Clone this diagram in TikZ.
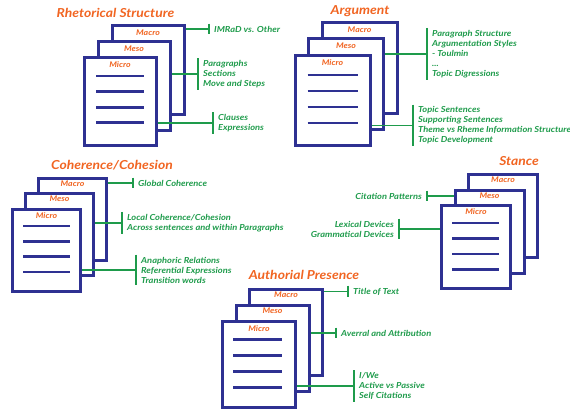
\documentclass[tikz,border=0pt]{standalone}
\usepackage{fontspec}
\setmainfont{Lato}[FakeStretch=1.12]
\usepackage{tikz}
\usepackage{xcolor}
\usetikzlibrary{positioning}
\definecolor{cNavy}{RGB}{46,49,146}
\definecolor{cOrange}{RGB}{241,101,34}
\definecolor{cGreen}{RGB}{30,155,75}
\tikzset{
	page/.style 2 args={rectangle, draw=cNavy, line width=3pt, fill=white, inner sep=0pt, minimum width=#1, minimum height=#2},
	ttl/.style={font=\bfseries\itshape\fontsize{12.4}{14}\selectfont, text=cOrange, inner sep=0pt},
	lvl/.style={font=\bfseries\itshape\fontsize{7.8}{9}\selectfont, text=cOrange, inner sep=0pt},
	rule/.style={draw=cNavy, line width=2.8pt},
	conn/.style={draw=cGreen, line width=1.3pt},
	% text with a bracket bar on its left / right side
	note/.style={font=\bfseries\itshape\fontsize{8.3}{10}\selectfont, text=cGreen, align=left, anchor=west, inner xsep=5pt, inner ysep=2pt,
		append after command={(\tikzlastnode.north west) edge[conn] (\tikzlastnode.south west)}},
	notel/.style={font=\bfseries\itshape\fontsize{8.3}{10}\selectfont, text=cGreen, align=right, anchor=east, inner xsep=5pt, inner ysep=2pt,
		append after command={(\tikzlastnode.north east) edge[conn] (\tikzlastnode.south east)}},
}
\begin{document}
\begin{tikzpicture}[x=1pt, y=-1pt]
	\useasboundingbox (0,0) rectangle (570,412);
	% Rhetorical Structure
	\node[ttl] (rhet) at (115.5,13) {Rhetorical Structure};
	\node[page={72}{88}] (macro1) at (148,70) {};
	\node[lvl] (lmacro1) at ([yshift=-8pt]macro1.north) {Macro};
	\node[page={72}{88}] (meso1) at (134,86) {};
	\node[lvl] (lmeso1) at ([yshift=-8pt]meso1.north) {Meso};
	\node[page={72}{88}] (micro1) at (120,101.5) {};
	\node[lvl] (lmicro1) at ([yshift=-9pt]micro1.north) {Micro};
	\foreach \k in {0,...,3}
		\draw[rule] ([xshift=-24pt, yshift=-20pt-\k*15.6pt]micro1.north) -- ++(48,0);
	\node[note] (imrad) at (209,29) {IMRaD vs. Other};
	\node[note] (paras) at (198,74) {Paragraphs\\Sections\\Move and Steps};
	\node[note] (clauses) at (213,123) {Clauses\\Expressions};
	\draw[conn] (macro1.east |- imrad.west) -- (imrad.west);
	\draw[conn] (meso1.east |- paras.west) -- (paras.west);
	\draw[conn] (micro1.east |- clauses.west) -- (clauses.west);

	% Argument
	\node[ttl] (argu) at (360,11) {Argument};
	\node[page={75}{90}] (macro2) at (359.5,68) {};
	\node[lvl] (lmacro2) at ([yshift=-8pt]macro2.north) {Macro};
	\node[page={75}{90}] (meso2) at (346,84) {};
	\node[lvl] (lmeso2) at ([yshift=-8pt]meso2.north) {Meso};
	\node[page={75}{90}] (micro2) at (332.5,100.5) {};
	\node[lvl] (lmicro2) at ([yshift=-9pt]micro2.north) {Micro};
	\foreach \k in {0,...,3}
		\draw[rule] ([xshift=-25pt, yshift=-21pt-\k*16pt]micro2.north) -- ++(50,0);
	\node[note] (parstr) at (427,54) {Paragraph Structure\\Argumentation Styles\\- Toulmin\\...\\Topic Digressions};
	\node[note] (topsent) at (413,125.5) {Topic Sentences\\Supporting Sentences\\Theme vs Rheme Information Structure\\Topic Development};
	\draw[conn] (meso2.east |- parstr.west) -- (parstr.west);
	\draw[conn] (micro2.east |- topsent.west) -- (topsent.west);

	% Coherence/Cohesion
	\node[ttl] (coh) at (112,165) {Coherence/Cohesion};
	\node[page={68}{82}] (macro3) at (72.5,219) {};
	\node[lvl] (lmacro3) at ([yshift=-7pt]macro3.north) {Macro};
	\node[page={68}{82}] (meso3) at (59.5,234.5) {};
	\node[lvl] (lmeso3) at ([yshift=-7pt]meso3.north) {Meso};
	\node[page={68}{82}] (micro3) at (46.5,250) {};
	\node[lvl] (lmicro3) at ([yshift=-8.5pt]micro3.north) {Micro};
	\foreach \k in {0,...,3}
		\draw[rule] ([xshift=-23.5pt, yshift=-18.5pt-\k*15.3pt]micro3.north) -- ++(47,0);
	\node[note] (glob) at (133,183) {Global Coherence};
	\node[note] (local) at (122,223) {Local Coherence/Cohesion\\Across sentences and within Paragraphs};
	\node[note] (anaph) at (136,270) {Anaphoric Relations\\Referential Expressions\\Transition words};
	\draw[conn] (macro3.east |- glob.west) -- (glob.west);
	\draw[conn] (meso3.east |- local.west) -- (local.west);
	\draw[conn] (micro3.east |- anaph.west) -- (anaph.west);

	% Stance
	\node[ttl] (stance) at (519,161) {Stance};
	\node[page={69}{83}] (macro4) at (503,216) {};
	\node[lvl] (lmacro4) at ([yshift=-7pt]macro4.north) {Macro};
	\node[page={69}{83}] (meso4) at (489.5,231.5) {};
	\node[lvl] (lmeso4) at ([yshift=-7pt]meso4.north) {Meso};
	\node[page={69}{83}] (micro4) at (476,246.5) {};
	\node[lvl] (lmicro4) at ([yshift=-8.5pt]micro4.north) {Micro};
	\foreach \k in {0,...,3}
		\draw[rule] ([xshift=-24pt, yshift=-19.5pt-\k*15.5pt]micro4.north) -- ++(47,0);
	\node[notel] (cite) at (427,196) {Citation Patterns};
	\node[notel] (lexdev) at (399,229) {Lexical Devices\\Grammatical Devices};
	\draw[conn] (meso4.west |- cite.east) -- (cite.east);
	\draw[conn] (micro4.west |- lexdev.east) -- (lexdev.east);

	% Authorial Presence
	\node[ttl] (auth) at (304,275) {Authorial Presence};
	\node[page={73}{86}] (macro5) at (286,332) {};
	\node[lvl] (lmacro5) at ([yshift=-7.5pt]macro5.north) {Macro};
	\node[page={73}{86}] (meso5) at (272.5,348.5) {};
	\node[lvl] (lmeso5) at ([yshift=-7pt]meso5.north) {Meso};
	\node[page={73}{86}] (micro5) at (259,364.5) {};
	\node[lvl] (lmicro5) at ([yshift=-8.5pt]micro5.north) {Micro};
	\foreach \k in {0,...,3}
		\draw[rule] ([xshift=-26pt, yshift=-19.5pt-\k*16pt]micro5.north) -- ++(49,0);
	\node[note] (ttext) at (348,291.5) {Title of Text};
	\node[note] (averral) at (336,333) {Averral and Attribution};
	\node[note] (iwe) at (354,386) {I/We\\Active vs Passive\\Self Citations};
	\draw[conn] (macro5.east |- ttext.west) -- (ttext.west);
	\draw[conn] (meso5.east |- averral.west) -- (averral.west);
	\draw[conn] (micro5.east |- iwe.west) -- (iwe.west);
\end{tikzpicture}
\end{document}
